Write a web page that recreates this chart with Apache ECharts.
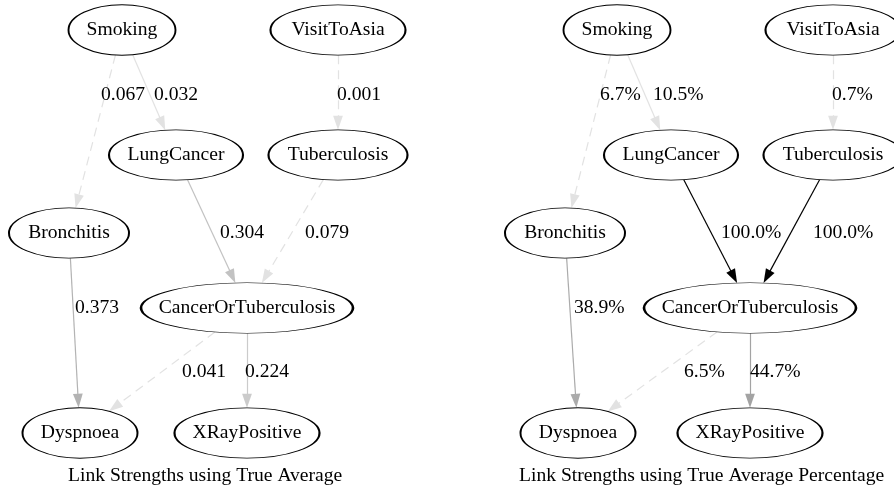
<!DOCTYPE html>
<html>
<head>
<meta charset="utf-8">
<script src="https://cdn.jsdelivr.net/npm/echarts@6/dist/echarts.min.js"></script>
<style>
  html, body { margin: 0; padding: 0; background: #fff; }
  #chart { width: 894px; height: 489px; }
</style>
</head>
<body>
<div id="chart"></div>
<script>
// nodes of the network (same for both panels)
var nodeNames = ["Smoking", "VisitToAsia", "LungCancer", "Tuberculosis",
  "Bronchitis", "CancerOrTuberculosis", "Dyspnoea", "XRayPositive"];
var nodeWidths = [107, 135, 134, 139, 120, 212, 115, 145];
var nodeHeight = 50.4;

// layout of each panel (px)
var avgNodeX = [122, 338, 176, 338, 69, 247, 80, 247];
var avgNodeY = [30, 30, 155, 155, 233, 308, 433, 433];
var pctNodeX = [617, 833, 671, 833, 565, 750, 578, 750];
var pctNodeY = [30, 30, 155, 155, 233, 308, 433, 433];

// edges
var edgeFrom = ["Smoking", "Smoking", "VisitToAsia", "LungCancer",
  "Tuberculosis", "Bronchitis", "CancerOrTuberculosis", "CancerOrTuberculosis"];
var edgeTo = ["Bronchitis", "LungCancer", "Tuberculosis", "CancerOrTuberculosis",
  "CancerOrTuberculosis", "Dyspnoea", "Dyspnoea", "XRayPositive"];

var avgStrength = [0.067, 0.032, 0.001, 0.304, 0.079, 0.373, 0.041, 0.224];
var pctStrength = [6.7, 10.5, 0.7, 100.0, 100.0, 38.9, 6.5, 44.7];

var avgColors = ["#e2e2e2", "#e2e2e2", "#e2e2e2", "#c2c2c2", "#e2e2e2", "#b3b3b3", "#e2e2e2", "#cbcbcb"];
var pctColors = ["#e2e2e2", "#e2e2e2", "#e2e2e2", "#000000", "#000000", "#ababab", "#e2e2e2", "#a3a3a3"];
var avgDashed = [true, false, true, false, true, false, true, false];
var pctDashed = [true, false, true, false, false, false, true, false];

// edge label anchors (left edge of text, middle)
var avgLabelX = [101, 154, 337, 220, 305, 75, 182, 245];
var avgLabelY = [95, 95, 95, 233, 233, 308, 372, 372];
var pctLabelX = [600, 653, 832, 721, 813, 574, 684, 750];
var pctLabelY = [95, 95, 95, 233, 233, 308, 372, 372];

var panelTitles = ["Link Strengths using True Average", "Link Strengths using True Average Percentage"];
var titleLeft = [68, 519];

var FONT = "'Liberation Serif', 'DejaVu Serif', serif";
var FS = 19.6;
var ARROW = 14;
var ellipsePath = "path://M0,50A50,50,0,1,1,100,50A50,50,0,1,1,0,50Z";
var arrowPath = "path://M0,0M14,14M7,0L11.9,14L2.1,14Z";

function clip(cx, cy, rx, ry, dx, dy) {
  var t = 1 / Math.sqrt((dx / rx) * (dx / rx) + (dy / ry) * (dy / ry));
  return [cx + dx * t, cy + dy * t];
}

function buildEdges(xs, ys, colors, dashed) {
  var out = [];
  for (var i = 0; i < edgeFrom.length; i++) {
    var a = nodeNames.indexOf(edgeFrom[i]);
    var b = nodeNames.indexOf(edgeTo[i]);
    var dx = xs[b] - xs[a], dy = ys[b] - ys[a];
    var len = Math.sqrt(dx * dx + dy * dy);
    var p0 = clip(xs[a], ys[a], nodeWidths[a] / 2, nodeHeight / 2, dx, dy);
    var p1 = clip(xs[b], ys[b], nodeWidths[b] / 2, nodeHeight / 2, -dx, -dy);
    p1 = [p1[0] - dx / len * ARROW / 2, p1[1] - dy / len * ARROW / 2];
    out.push({
      coords: [p0, p1],
      lineStyle: { color: colors[i], type: dashed[i] ? [9, 6] : "solid", width: 1.2, opacity: 1 }
    });
  }
  return out;
}

function buildNodes(xs, ys) {
  return nodeNames.map(function (n, i) {
    return { name: n, value: [xs[i], ys[i]], symbolSize: [nodeWidths[i], nodeHeight] };
  });
}

function buildLabels(xs, ys, texts) {
  return texts.map(function (t, i) { return [xs[i], ys[i], t]; });
}

function nodeSeries(xs, ys) {
  return {
    type: "graph",
    coordinateSystem: "cartesian2d",
    layout: "none",
    silent: true,
    z: 3,
    symbol: ellipsePath,
    itemStyle: { color: "#fff", borderColor: "#000", borderWidth: 1.3, opacity: 1 },
    label: { show: true, position: "inside", color: "#000", fontFamily: FONT, fontSize: FS },
    data: buildNodes(xs, ys)
  };
}

function edgeSeries(xs, ys, colors, dashed) {
  return {
    type: "lines",
    coordinateSystem: "cartesian2d",
    silent: true,
    z: 2,
    symbol: ["none", arrowPath],
    symbolSize: ARROW,
    data: buildEdges(xs, ys, colors, dashed)
  };
}

function labelSeries(xs, ys, texts) {
  return {
    type: "scatter",
    silent: true,
    z: 4,
    symbolSize: 0,
    itemStyle: { opacity: 1 },
    label: {
      show: true, position: "right", distance: 0, color: "#000", opacity: 1,
      fontFamily: FONT, fontSize: FS,
      formatter: function (p) { return p.value[2]; }
    },
    data: buildLabels(xs, ys, texts)
  };
}

var avgTexts = avgStrength.map(function (v) { return v.toFixed(3); });
var pctTexts = pctStrength.map(function (v) { return v.toFixed(1) + "%"; });

var chart = echarts.init(document.getElementById("chart"));
chart.setOption({
  animation: false,
  backgroundColor: "#fff",
  title: panelTitles.map(function (t, i) {
    return {
      text: t, left: titleLeft[i], top: 466, padding: 0,
      textStyle: { fontFamily: FONT, fontSize: FS, fontWeight: "normal", color: "#000" }
    };
  }),
  grid: { left: 0, right: 0, top: 0, bottom: 0 },
  xAxis: { type: "value", min: 0, max: 894, show: false },
  yAxis: { type: "value", min: 0, max: 489, inverse: true, show: false },
  series: [
    edgeSeries(avgNodeX, avgNodeY, avgColors, avgDashed),
    edgeSeries(pctNodeX, pctNodeY, pctColors, pctDashed),
    nodeSeries(avgNodeX, avgNodeY),
    nodeSeries(pctNodeX, pctNodeY),
    labelSeries(avgLabelX, avgLabelY, avgTexts),
    labelSeries(pctLabelX, pctLabelY, pctTexts)
  ]
});
</script>
</body>
</html>
